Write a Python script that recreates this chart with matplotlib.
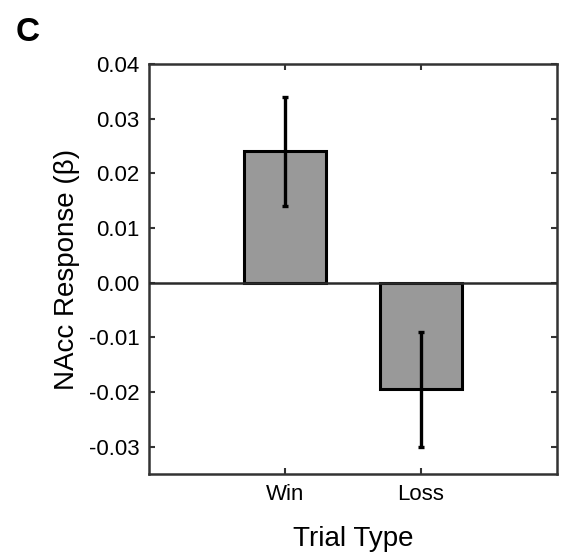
import matplotlib
matplotlib.use("Agg")
import matplotlib.pyplot as plt

categories = ["Win", "Loss"]
values = [0.0240, -0.0195]
errors = [0.0100, 0.0105]
yticks = [0.04, 0.03, 0.02, 0.01, 0.00, -0.01, -0.02, -0.03]
ytick_labels = ["0.04", "0.03", "0.02", "0.01", "0.00", "-0.01", "-0.02", "-0.03"]

plt.rcParams['font.family'] = ['Liberation Sans', 'DejaVu Sans']

fig = plt.figure(figsize=(5.61, 5.60), dpi=100)
ax = fig.add_axes([149/561, 1-474/560, (557-149)/561, (474-64)/560])

x = [1, 2]
ax.bar(x, values, width=0.6, color="#999999", edgecolor="black", linewidth=2.2, zorder=2)
ax.errorbar(x, values, yerr=errors, fmt="none", ecolor="black", elinewidth=2.4,
            capsize=2, capthick=2.4, zorder=3)
ax.axhline(0, color="#2a2a2a", linewidth=1.8, zorder=4)

ax.set_xlim(0, 3)
ax.set_ylim(-0.035, 0.04)
ax.set_xticks(x)
ax.set_xticklabels(categories, fontsize=16)
ax.set_yticks(yticks)
ax.set_yticklabels(ytick_labels, fontsize=16)
ax.tick_params(direction="in", length=4, width=1.5, color="#333333",
               top=True, right=True, pad=7)
for s in ax.spines.values():
    s.set_linewidth(1.8)
    s.set_color("#333333")

ax.set_xlabel("Trial Type", fontsize=20, labelpad=15)
ax.set_ylabel("NAcc Response (β)", fontsize=20, labelpad=6)

fig.text(16/561, 1-41/560, "C", fontsize=24, fontweight="bold", ha="left", va="baseline")

fig.savefig("out.png", dpi=100)
